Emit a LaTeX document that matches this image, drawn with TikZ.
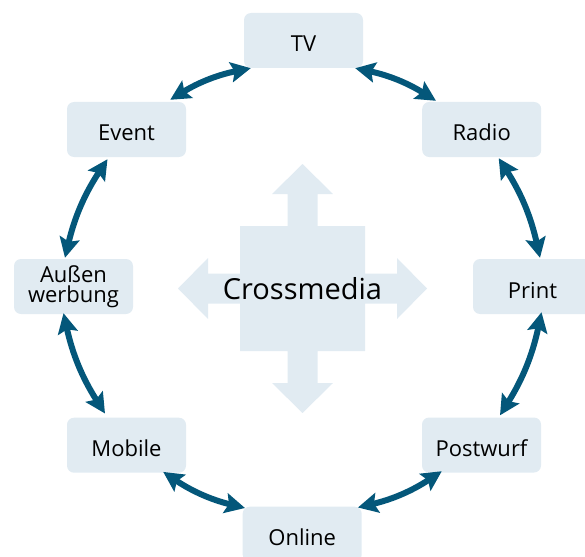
\documentclass[tikz,border=0pt]{standalone}
\usepackage{fontspec}
\setmainfont{Open Sans}
\usetikzlibrary{arrows.meta,calc}

\definecolor{boxfill}{HTML}{E1EBF2}
\definecolor{linkcol}{HTML}{04577A}

\tikzset{
  medium/.style={fill=boxfill, rounded corners=7pt, minimum width=119pt,
    minimum height=55pt, inner sep=0pt,
    font=\fontsize{22}{19.5}\selectfont},
  oneline/.style={medium, text height=23pt, text depth=0pt},
  twoline/.style={medium, align=center},
  link/.style={draw=linkcol, line width=6pt,
    {Stealth[length=20pt,width=20pt,inset=3.5pt]}-{Stealth[length=20pt,width=20pt,inset=3.5pt]},
    bend left=10},
}

\begin{document}
\begin{tikzpicture}[x=1pt,y=-1pt]
  \useasboundingbox (0,0) rectangle (585,556);
  \clip (0,0) rectangle (585,556);

  % central cross with four arrow heads
  \coordinate (c) at (302.5,288.5);
  \fill[boxfill] ($(c)+(-62.5,-62.5)$)
    -- ($(c)+(-15,-62.5)$) -- ($(c)+(-15,-94.5)$) -- ($(c)+(-30.5,-94.5)$)
    -- ($(c)+(0,-124.5)$)
    -- ($(c)+(30.5,-94.5)$) -- ($(c)+(15,-94.5)$) -- ($(c)+(15,-62.5)$)
    -- ($(c)+(62.5,-62.5)$)
    -- ($(c)+(62.5,-15)$) -- ($(c)+(94.5,-15)$) -- ($(c)+(94.5,-30.5)$)
    -- ($(c)+(124.5,0)$)
    -- ($(c)+(94.5,30.5)$) -- ($(c)+(94.5,15)$) -- ($(c)+(62.5,15)$)
    -- ($(c)+(62.5,62.5)$)
    -- ($(c)+(15,62.5)$) -- ($(c)+(15,94.5)$) -- ($(c)+(30.5,94.5)$)
    -- ($(c)+(0,124.5)$)
    -- ($(c)+(-30.5,94.5)$) -- ($(c)+(-15,94.5)$) -- ($(c)+(-15,62.5)$)
    -- ($(c)+(-62.5,62.5)$)
    -- ($(c)+(-62.5,15)$) -- ($(c)+(-94.5,15)$) -- ($(c)+(-94.5,30.5)$)
    -- ($(c)+(-124.5,0)$)
    -- ($(c)+(-94.5,-30.5)$) -- ($(c)+(-94.5,-15)$) -- ($(c)+(-62.5,-15)$)
    -- cycle;
  \node[font=\fontsize{29}{32}\selectfont] (cross) at (c) {Crossmedia};

  % media boxes
  \node[oneline] (tv)     at (303.5,40.5)  {TV};
  \node[oneline] (radio)  at (481.7,129.5) {Radio};
  \node[oneline] (print)  at (532.5,286.5) {Print};
  \node[oneline] (post)   at (481.5,445)   {Postwurf};
  \node[oneline] (online) at (302.2,534.2) {Online};
  \node[oneline] (mobile) at (126.5,445.2) {Mobile};
  \node[twoline] (aussen) at (73.5,286.5)  {Außen\\werbung};
  \node[oneline] (event)  at (126.5,129.5) {Event};

  % two-way links around the ring, clockwise
  \draw[link] ([shift={(-8,0)}]tv.south east) to ([shift={(14,-1)}]radio.north west);
  \draw[link] ([shift={(17,1)}]radio.south) to ([shift={(7.5,-1)}]print.north);
  \draw[link] ([shift={(9,-2)}]print.south) to ([shift={(18.5,-2)}]post.north);
  \draw[link] ([shift={(20,-1.5)}]post.south west) to ([shift={(-4,1)}]online.north east);
  \draw[link] ([shift={(2.5,1.5)}]online.north west) to ([shift={(-23,-1)}]mobile.south east);
  \draw[link] ([shift={(-21.5,-4)}]mobile.north) to ([shift={(-10,-1)}]aussen.south);
  \draw[link] ([shift={(-8.5,-1)}]aussen.north) to ([shift={(-19,2)}]event.south);
  \draw[link] ([shift={(-16,-2)}]event.north east) to ([shift={(7,0)}]tv.south west);
\end{tikzpicture}
\end{document}
